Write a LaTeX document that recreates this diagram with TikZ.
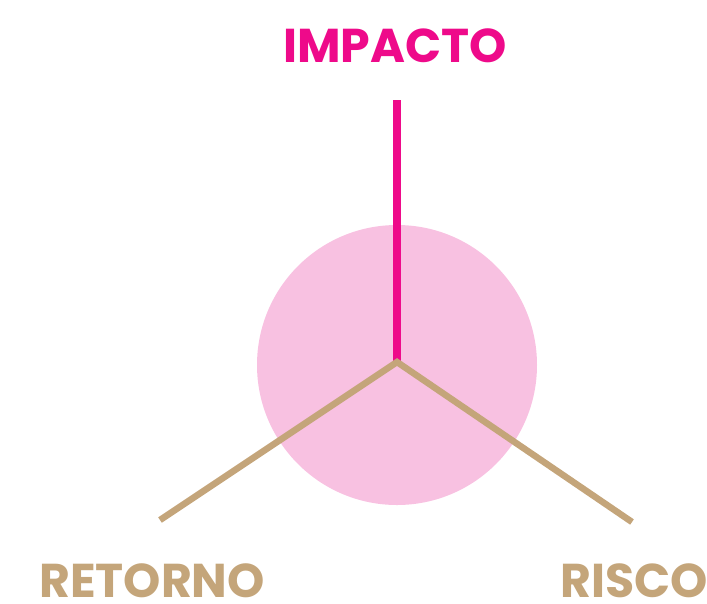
\documentclass[tikz,border=0pt]{standalone}
\usepackage{fontspec}
\setmainfont{Poppins}
\usepackage{tikz}
\usetikzlibrary{positioning}

\definecolor{impactpink}{HTML}{EE0A8A}
\definecolor{softpink}{HTML}{F8C1E1}
\definecolor{sand}{HTML}{C4A57A}

\begin{document}
\begin{tikzpicture}[x=0.02cm, y=-0.02cm,
		axislabel/.style = {font=\fontsize{27}{30}\selectfont\bfseries, inner sep=0pt, text depth=0pt, anchor=base}]
		\useasboundingbox (0,0) rectangle (707,603);
		\fill[softpink] (397,365) circle (140);
		
		\coordinate (centre) at (397,362);
		\coordinate (top) at (397,100);
		\coordinate (left) at (160,520);
		\coordinate (right) at (632,522);
		
		\node[axislabel, text=impactpink] (impacto) at (395,62) {IMPACTO};
		\node[axislabel, text=sand] (retorno) at (152,597) {RETORNO};
		\node[axislabel, text=sand] (risco) at (634,597) {RISCO};
		
		\draw[impactpink, line width=4.5pt] (top) -- (centre);
		\draw[sand, line width=3.7pt, line join=miter] (left) -- (centre) -- (right);
		\end{tikzpicture}
\end{document}
